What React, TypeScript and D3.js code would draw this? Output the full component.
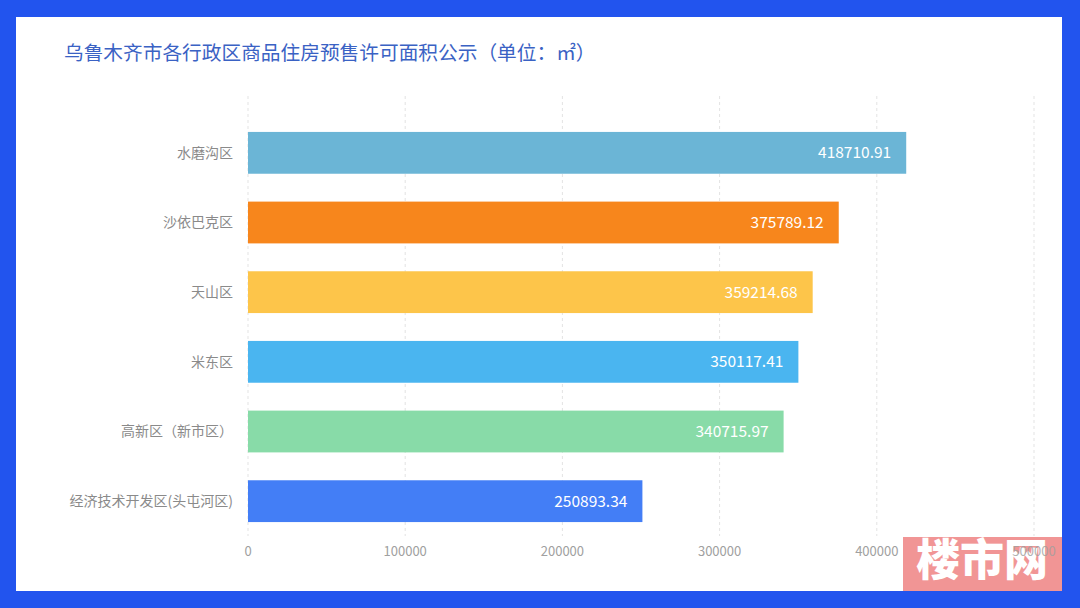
import React from "react";
import * as d3 from "d3";

const categories = ["水磨沟区", "沙依巴克区", "天山区", "米东区", "高新区（新市区）", "经济技术开发区(头屯河区)"];
const values = [418710.91, 375789.12, 359214.68, 350117.41, 340715.97, 250893.34];
const barColors = ["#6BB5D6", "#F7861C", "#FDC54A", "#4AB5F0", "#88DBA8", "#437EF6"];
const xTicks = [0, 100000, 200000, 300000, 400000, 500000];
const title = "乌鲁木齐市各行政区商品住房预售许可面积公示（单位：㎡）";

const W = 1080;
const H = 608;
const FONT = "'Noto Sans CJK SC', 'Noto Sans', sans-serif";

export default function App() {
  const x = d3.scaleLinear().domain([0, 500000]).range([248, 1034]);
  const y = d3.scaleBand<string>().domain(categories).range([118, 536]).paddingInner(0.4).paddingOuter(0.2);
  const bw = y.bandwidth();

  return (
    <svg width={W} height={H} style={{ position: "absolute", left: 0, top: 0, display: "block" }} fontFamily={FONT}>
      <rect x={0} y={0} width={W} height={H} fill="#2254EE" />
      <rect x={16} y={17} width={1046} height={574} fill="#FFFFFF" />
      <text x={64} y={60} fontSize={19.7} fill="#3A62C4">{title}</text>
      {xTicks.map((t) => (
        <line key={t} x1={x(t)} x2={x(t)} y1={96} y2={536} stroke="#E3E3E3" strokeWidth={1} strokeDasharray="3,3" />
      ))}
      {categories.map((c, i) => {
        const yy = y(c) as number;
        return (
          <g key={c}>
            <rect x={x(0)} y={yy} width={x(values[i]) - x(0)} height={bw} fill={barColors[i]} />
            <text x={233} y={yy + bw / 2} dy="0.35em" textAnchor="end" fontSize={14} fill="#8A8A8A">{c}</text>
            <text x={x(values[i]) - 15} y={yy + bw / 2} dy="0.36em" textAnchor="end" fontSize={15.5} fill="#FFFFFF">{values[i].toFixed(2)}</text>
          </g>
        );
      })}
      <g>
        <rect x={903} y={537} width={159} height={54} fill="#F08C8C" opacity={0.92} />
        <text x={982} y={576} textAnchor="middle" fontSize={44} fontWeight={900} fill="#FFFFFF">楼市网</text>
      </g>
      {xTicks.map((t) => (
        <text key={t} x={x(t)} y={556} textAnchor="middle" fontSize={13} fill="#A0A0A0" opacity={t === 500000 ? 0.8 : 1}>{t}</text>
      ))}
    </svg>
  );
}
